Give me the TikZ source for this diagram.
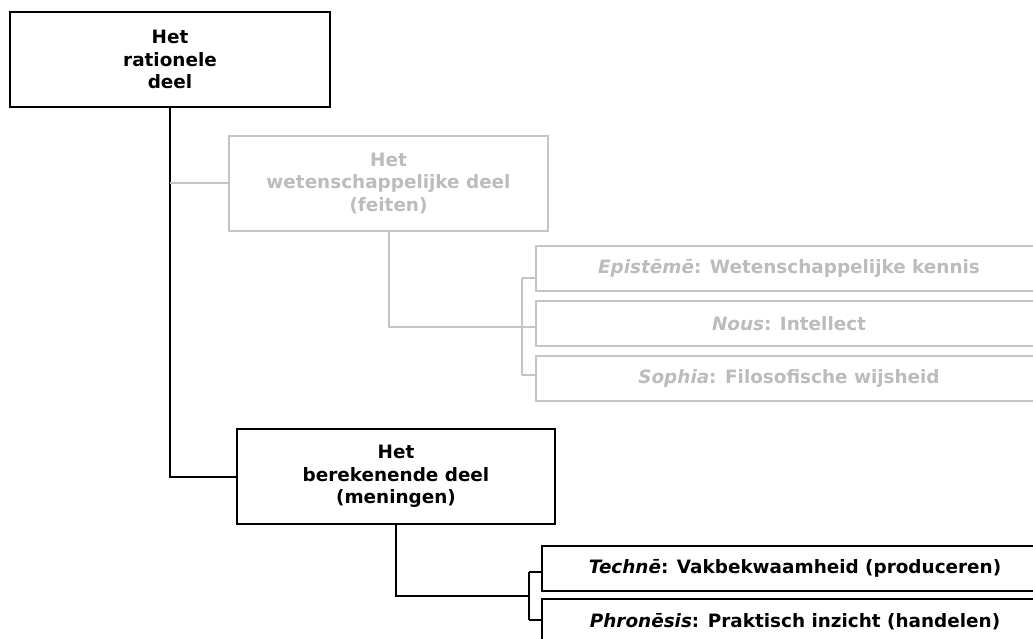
\documentclass[tikz,border=0pt]{standalone}
\usepackage{fontspec}
\setmainfont{DejaVu Sans}
\definecolor{lg}{RGB}{196,196,196}
\definecolor{lgt}{RGB}{188,188,188}
\begin{document}
\begin{tikzpicture}[x=1pt,y=-1pt,
  txt/.style={font=\fontsize{18.4}{22.5}\selectfont\bfseries,align=center,inner sep=0pt},
  bbox/.style={txt,draw=black,line width=2pt,minimum width=318pt,minimum height=95pt},
  gbox/.style={txt,draw=lg,text=lgt,line width=2pt,minimum height=95pt},
  gleaf/.style={txt,draw=lg,text=lgt,line width=2pt,minimum width=506pt,minimum height=45pt},
  bleaf/.style={txt,draw=black,line width=2pt,minimum width=506pt,minimum height=45pt},
  bl/.style={draw=black,line width=2pt},
  gl/.style={draw=lg,line width=2pt}]
\fill[white] (0,0) rectangle (1033,639);
\useasboundingbox (0,0) rectangle (1033,639);
\clip (0,0) rectangle (1033,639);

\node[bbox,minimum width=320pt] (r) at (170,59.5) {Het\\rationele\\deel};
\node[gbox,minimum width=319pt] (w) at (388.5,183.5) {Het\\wetenschappelijke deel\\(feiten)};
\node[bbox] (b) at (396,476.5) {Het\\berekenende deel\\(meningen)};

\node[gleaf] (e) at (789,268) {\textit{Epistēmē}: Wetenschappelijke kennis};
\node[gleaf] (n) at (789,323.5) {\textit{Nous}: Intellect};
\node[gleaf] (s) at (789,378) {\textit{Sophia}: Filosofische wijsheid};

\node[bleaf] (t) at (795,568.5) {\textit{Technē}: Vakbekwaamheid (produceren)};
\node[bleaf] (p) at (795,621.5) {\textit{Phronēsis}: Praktisch inzicht (handelen)};

% main black tree
\draw[bl] (r.south) |- (b.west);
\coordinate (jw) at (r.south |- w.west);
\draw[gl] (jw) -- (w.west);

% grey subtree
\coordinate (gm) at (536,327);
\coordinate (g1) at (522,278);
\coordinate (g2) at (522,375);
\draw[gl] (w.south) |- (gm);
\draw[gl] (g1) -- (g2);
\draw[gl] (g1) -- (g1 -| e.west);
\draw[gl] (g2) -- (g2 -| s.west);

% black subtree
\coordinate (km) at (529,596);
\coordinate (k1) at (529,572);
\coordinate (k2) at (529,620);
\draw[bl] (b.south) |- (km);
\draw[bl] (k1) -- (k2);
\draw[bl] (k1) -- (k1 -| t.west);
\draw[bl] (k2) -- (k2 -| p.west);
\end{tikzpicture}
\end{document}
